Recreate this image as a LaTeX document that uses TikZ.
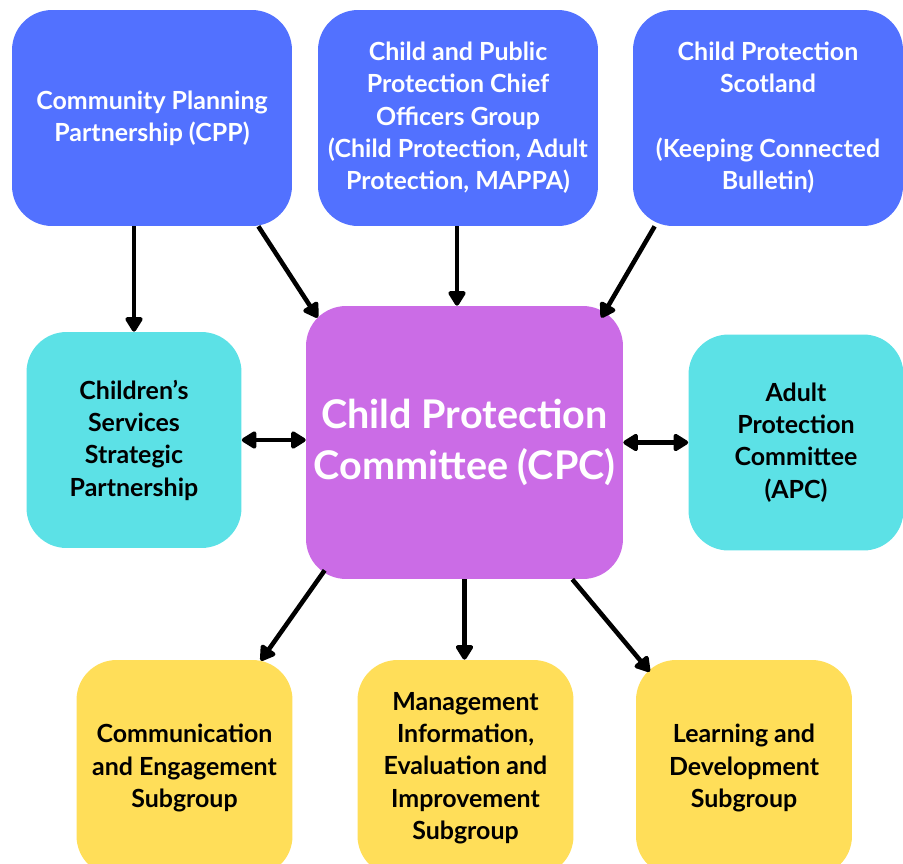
\documentclass[tikz,border=0pt]{standalone}
\usepackage{fontspec}
\setmainfont{Lato}
\usetikzlibrary{arrows.meta}

\definecolor{cpcblue}{HTML}{5271FF}
\definecolor{cpcpurple}{HTML}{CB6CE6}
\definecolor{cpccyan}{HTML}{5CE1E6}
\definecolor{cpcyellow}{HTML}{FFDE59}

\tikzset{
  box/.style={rounded corners=0.8cm, align=center, inner sep=0pt,
    font=\bfseries\fontsize{14.2}{18.4}\selectfont},
  topbox/.style={box, fill=cpcblue, text=white, minimum height=4.32cm},
  sidebox/.style={box, fill=cpccyan, text=black, minimum width=4.3cm, minimum height=4.32cm},
  subbox/.style={box, fill=cpcyellow, text=black, minimum width=4.32cm, minimum height=4.32cm},
  link/.style={line width=2.6pt, -{Triangle[length=9.5pt,width=11pt,round]}},
  dlink/.style={line width=2.6pt, {Triangle[length=9.5pt,width=11pt,round]}-{Triangle[length=9.5pt,width=11pt,round]}}
}

\begin{document}
\begin{tikzpicture}[x=0.02cm,y=-0.02cm]
\useasboundingbox (0,0) rectangle (903,863);
\begin{scope}
\clip (0,0) rectangle (903,863);

% top row
\node[topbox, minimum width=5.6cm] (cpp) at (152,118) {Community Planning\\Partnership (CPP)};
\node[topbox, minimum width=5.6cm] (cpo) at (458,118) {Child and Public\\Protection Chief\\Officers Group\\(Child Protection, Adult\\Protection, MAPPA)};
\node[topbox, minimum width=5.4cm] (cps) at (768,118) {Child Protection\\Scotland\\[\baselineskip](Keeping Connected\\Bulletin)};

% middle row
\node[sidebox] (css) at (134,440) {Children’s\\Services\\Strategic\\Partnership};
\node[box, fill=cpcpurple, text=white, minimum width=6.34cm, minimum height=5.46cm,
  font=\bfseries\fontsize{22.5}{29.5}\selectfont] (cpc) at (464.5,442.5) {Child Protection\\Committee (CPC)};
\node[sidebox] (apc) at (796,442.5) {Adult\\Protection\\Committee\\(APC)};

% subgroups
\node[subbox] (ceg) at (184.5,768) {Communication\\and Engagement\\Subgroup};
\node[subbox] (mie) at (465.5,768) {Management\\Information,\\Evaluation and\\Improvement\\Subgroup};
\node[subbox] (lad) at (744,768) {Learning and\\Development\\Subgroup};
\end{scope}

% connectors
\draw[link] (cpp.south -| css.north) -- (css.north);
\draw[link] ([xshift=-0.68cm]cpp.south east) -- ([shift={(12,12)}]cpc.north west);
\draw[link] ([xshift=-0.02cm]cpo.south) -- ([xshift=-0.02cm]cpo.south |- cpc.north);
\draw[link] ([xshift=0.44cm]cps.south west) -- ([shift={(-22,12)}]cpc.north east);
\draw[dlink] (css.east) -- (css.east -| cpc.west);
\draw[dlink] (cpc.east) -- (apc.west);
\draw[link] ([shift={(19,-9)}]cpc.south west) -- ([shift={(-32,1)}]ceg.north east);
\draw[link] (cpc.south) -- (cpc.south |- mie.north);
\draw[link] ([xshift=-1.02cm]cpc.south east) -- ([shift={(14,12)}]lad.north west);
\end{tikzpicture}
\end{document}
